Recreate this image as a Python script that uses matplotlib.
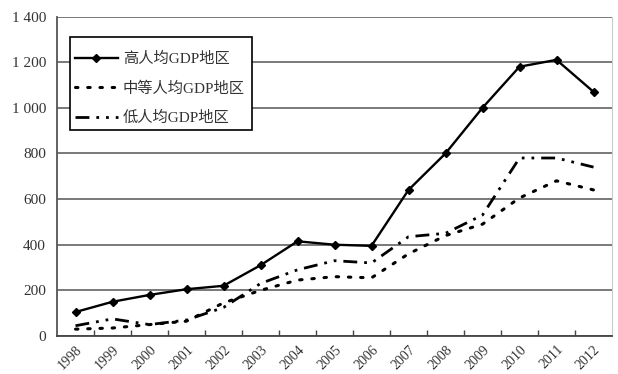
import matplotlib
matplotlib.use("Agg")
import matplotlib.pyplot as plt
from matplotlib.patches import Rectangle
import numpy as np

years = ["1998", "1999", "2000", "2001", "2002", "2003", "2004", "2005",
         "2006", "2007", "2008", "2009", "2010", "2011", "2012"]
high = [105, 150, 180, 205, 220, 310, 415, 400, 395, 640, 800, 1000, 1180, 1210, 1070]
mid = [30, 35, 50, 65, 145, 200, 245, 260, 255, 360, 440, 490, 605, 680, 640]
low = [45, 75, 50, 70, 125, 230, 290, 330, 320, 435, 450, 530, 780, 780, 740]
series_names = ["高人均GDP地区", "中等人均GDP地区", "低人均GDP地区"]
y_ticks = [0, 200, 400, 600, 800, 1000, 1200, 1400]
y_labels = ["0", "200", "400", "600", "800", "1 000", "1 200", "1 400"]

plt.rcParams["font.family"] = ["Liberation Serif", "Noto Sans CJK SC"]

W, H = 618, 374
fig = plt.figure(figsize=(W / 100, H / 100), dpi=100)
ax = fig.add_axes([57 / W, 1 - 336 / H, (612 - 57) / W, (336 - 16.5) / H])

x = np.arange(len(years))
ax.plot(x, high, color="black", lw=1.7, marker="D", markersize=4.5,
        label=series_names[0], zorder=4)
ax.plot(x, mid, color="black", lw=2.2, linestyle=(0, (0.8, 3.2)),
        dash_capstyle="round", label=series_names[1], zorder=3)
ax.plot(x, low, color="black", lw=2.0,
        linestyle=(0, (5, 2.5, 1, 2.5, 1, 2.5)), label=series_names[2], zorder=3)

ax.set_xlim(-0.5, len(years) - 0.5)
ax.set_ylim(0, 1400)
ax.set_yticks(y_ticks)
ax.set_yticklabels(y_labels, fontsize=11, color="#333333")
ax.tick_params(axis="y", length=0, pad=8)

# category boundaries carry the tick marks, labels sit at the category centres
ax.set_xticks(np.arange(0.5, len(years) - 0.5, 1.0))
ax.set_xticklabels([])
ax.tick_params(axis="x", direction="in", length=4, width=1, color="#444444")
ax.set_xticks(x, minor=True)
ax.set_xticklabels(years, minor=True, rotation=45, ha="right", va="top",
                   fontsize=10, color="#333333", rotation_mode="anchor")
ax.tick_params(axis="x", which="minor", length=0, pad=5)

ax.yaxis.grid(True, color="#555555", lw=1.1)
ax.set_axisbelow(True)
ax.spines["top"].set_visible(False)
ax.spines["right"].set_color("#cccccc")
ax.spines["left"].set_color("#555555")
ax.spines["left"].set_linewidth(1.3)
ax.spines["bottom"].set_color("#444444")
ax.spines["bottom"].set_linewidth(1.3)

# legend box, drawn above the gridlines
box = Rectangle((70 / W, 1 - 130 / H), (252 - 70) / W, (130 - 37) / H,
                transform=fig.transFigure, facecolor="white",
                edgecolor="black", lw=1.2, zorder=5, clip_on=False)
ax.add_artist(box)

leg = ax.legend(loc="upper left", bbox_to_anchor=(75 / W, 1 - 52 / H),
                bbox_transform=fig.transFigure,
                fontsize=11, frameon=False, borderpad=0,
                handlelength=2.8, handletextpad=0.33, labelspacing=1.0,
                borderaxespad=0)
for t in leg.get_texts():
    t.set_color("#333333")
leg.set_zorder(6)

fig.savefig("out.png", dpi=100, facecolor="white")
